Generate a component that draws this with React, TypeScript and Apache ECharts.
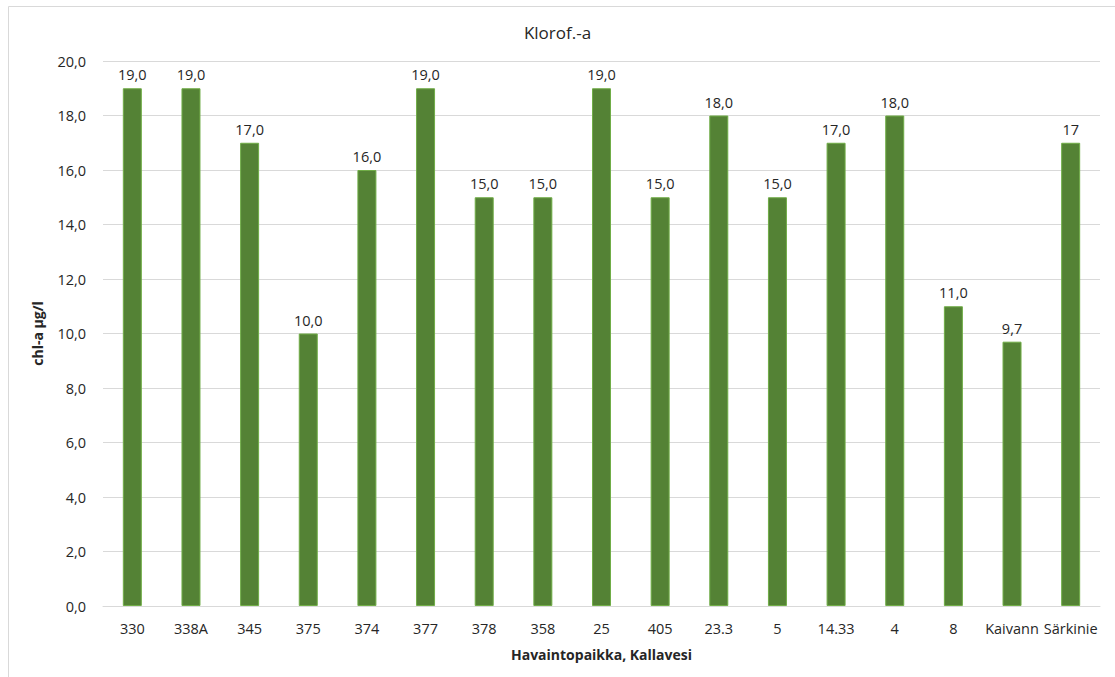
import React, { useEffect, useRef } from "react";
import * as echarts from "echarts";

const categories = ["330", "338A", "345", "375", "374", "377", "378", "358", "25", "405", "23.3", "5", "14.33", "4", "8", "Kaivann", "Särkinie"];
const values = [19, 19, 17, 10, 16, 19, 15, 15, 19, 15, 18, 15, 17, 18, 11, 9.7, 17];
const labelTexts = ["19,0", "19,0", "17,0", "10,0", "16,0", "19,0", "15,0", "15,0", "19,0", "15,0", "18,0", "15,0", "17,0", "18,0", "11,0", "9,7", "17"];
const title = "Klorof.-a";
const yName = "chl-a µg/l";
const xName = "Havaintopaikka, Kallavesi";

const FONT = "'Open Sans', 'Noto Sans', sans-serif";

export default function App() {
  const ref = useRef<HTMLDivElement>(null);
  useEffect(() => {
    if (!ref.current) return;
    const chart = echarts.init(ref.current, null, { renderer: "svg" });
    chart.setOption({
      animation: false,
      backgroundColor: "#ffffff",
      title: {
        text: title,
        left: "center",
        top: 19,
        textStyle: { fontFamily: FONT, fontSize: 17, fontWeight: "normal", color: "#262626" },
      },
      graphic: [
        {
          type: "rect",
          shape: { x: 8.5, y: 6.5, width: 1200, height: 800 },
          style: { fill: "none", stroke: "#d9d9d9", lineWidth: 1 },
          silent: true,
        },
      ],
      grid: { left: 103, right: 15, top: 61, bottom: 71 },
      xAxis: {
        type: "category",
        data: categories,
        name: xName,
        nameLocation: "middle",
        nameGap: 41,
        nameTextStyle: { fontFamily: FONT, fontSize: 14, fontWeight: "bold", color: "#262626" },
        axisLine: { lineStyle: { color: "#d9d9d9", width: 1 } },
        axisTick: { show: false },
        axisLabel: { interval: 0, fontFamily: FONT, fontSize: 14.5, color: "#262626", margin: 15 },
      },
      yAxis: {
        type: "value",
        min: 0,
        max: 20,
        interval: 2,
        name: yName,
        nameLocation: "middle",
        nameGap: 59,
        nameTextStyle: { fontFamily: FONT, fontSize: 14, fontWeight: "bold", color: "#262626" },
        axisLine: { show: false },
        axisTick: { show: false },
        splitLine: { lineStyle: { color: "#d9d9d9", width: 1 } },
        axisLabel: {
          fontFamily: FONT,
          fontSize: 14.5,
          color: "#262626",
          margin: 17,
          formatter: (v: number) => v.toFixed(1).replace(".", ","),
        },
      },
      series: [
        {
          type: "bar",
          data: values,
          barWidth: 19,
          itemStyle: { color: "#548235", borderColor: "#70ad47", borderWidth: 1 },
          label: {
            show: true,
            position: "top",
            distance: 6,
            fontFamily: FONT,
            fontSize: 14.5,
            color: "#262626",
            formatter: (p: any) => labelTexts[p.dataIndex],
          },
        },
      ],
    });
    return () => chart.dispose();
  }, []);
  return <div ref={ref} style={{ position: "fixed", left: 0, top: 0, width: 1115, height: 677 }} />;
}
